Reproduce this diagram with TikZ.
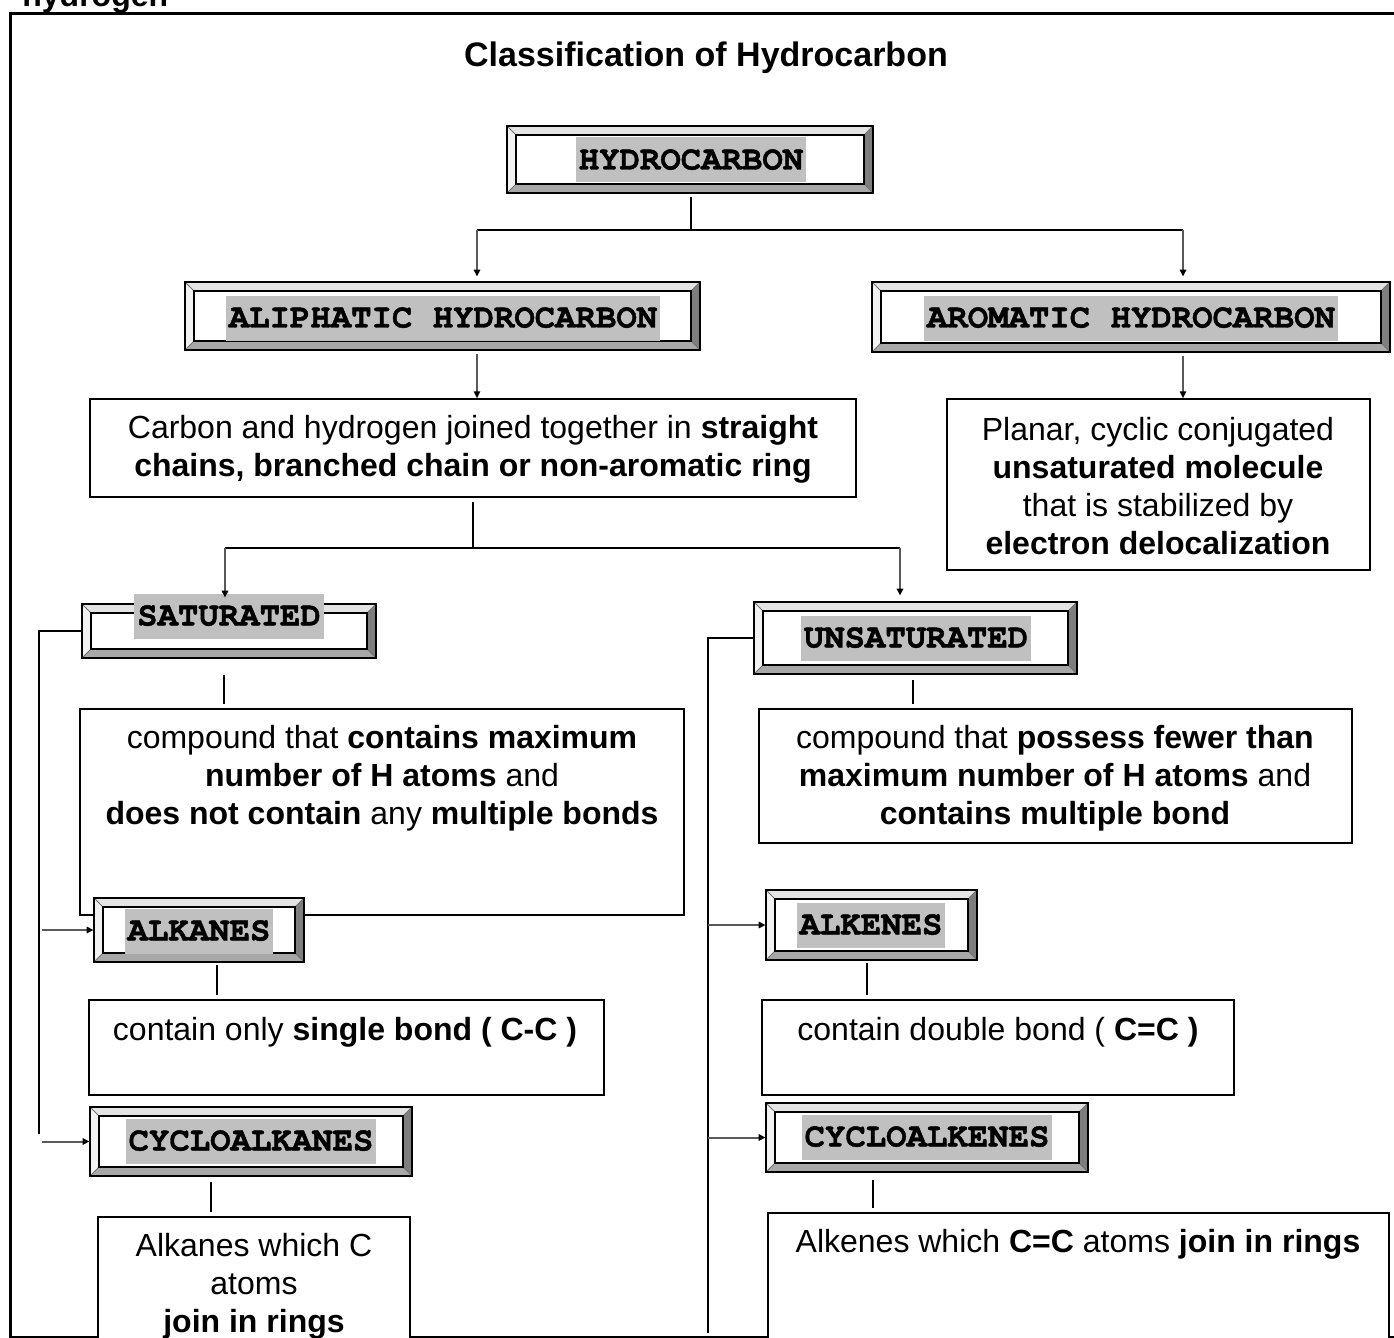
\documentclass[tikz,border=0pt]{standalone}
\usepackage{fontspec}
\setmainfont{Liberation Sans}
\newfontfamily\monof[Extension=.otf, UprightFont=*-regular, BoldFont=*-bold, BoldFeatures={FakeBold=1.2}]{texgyrecursor}
\usetikzlibrary{arrows.meta,fit,calc}
\definecolor{hl}{HTML}{C0C0C0}
\definecolor{bvleft}{HTML}{F2F2F2}
\definecolor{bvtop}{HTML}{E4E4E4}
\definecolor{bvbot}{HTML}{A8A8A8}
\definecolor{bvright}{HTML}{7E7E7E}
\newcommand{\bevbox}[5]{%
 \fill[bvtop] (#2,#3) -- (#4,#3) -- (#4-9,#3+9) -- (#2+9,#3+9) -- cycle;
 \fill[bvleft] (#2,#3) -- (#2+9,#3+9) -- (#2+9,#5-9) -- (#2,#5) -- cycle;
 \fill[bvbot] (#2,#5) -- (#2+9,#5-9) -- (#4-9,#5-9) -- (#4,#5) -- cycle;
 \fill[bvright] (#4,#3) -- (#4,#5) -- (#4-9,#5-9) -- (#4-9,#3+9) -- cycle;
 \draw[black!55, line width=0.4pt] (#2,#3) -- (#2+9,#3+9) (#4,#3) -- (#4-9,#3+9) (#2,#5) -- (#2+9,#5-9) (#4,#5) -- (#4-9,#5-9);
 \fill[white] (#2+9,#3+9) rectangle (#4-9,#5-9);
 \draw[line width=0.7pt] (#2+9,#3+9) rectangle (#4-9,#5-9);
 \draw[line width=1.3pt] (#2,#3) rectangle (#4,#5);
 \node[fit={(#2,#3)(#4,#5)}, inner sep=0pt] (#1) {};
}
\tikzset{
 lbl/.style={font=\monof\bfseries\fontsize{17pt}{17pt}\selectfont, text=black, fill=hl, inner xsep=1.5pt, inner ysep=6.5pt, text height=9.5pt, text depth=0pt},
 body/.style={font=\fontsize{16pt}{19pt}\selectfont, align=center, inner sep=0pt},
 tbox/.style={draw, fill=white, line width=0.75pt, inner sep=0pt},
 trunk/.style={line width=1.3pt, black},
 arr/.style={line width=1pt, draw=black!65, -{Triangle[length=3.5pt,width=3.2pt,color=black]}},
}
\begin{document}
\begin{tikzpicture}[x=0.5pt,y=-0.5pt]
\useasboundingbox (0,0) rectangle (1394,1338);
\fill[white] (0,0) rectangle (1394,1338);
% cut-off heading
\node[font=\bfseries\fontsize{16pt}{16pt}\selectfont, anchor=base west, inner sep=0pt] (hyd) at (22,7) {hydrogen};
% outer frame
\draw[line width=1.5pt] (10,14) rectangle (1410,1337);
% title
\node[font=\bfseries\fontsize{17pt}{17pt}\selectfont, anchor=base, inner sep=0pt] (title) at (706,67) {Classification of Hydrocarbon};

% text boxes
\node[tbox, fit={(90,399)(856,497)}] (t1) {};
\node[tbox, fit={(947,399)(1370,570)}] (t2) {};
\node[tbox, fit={(80,709)(684,915)}] (t3) {};
\node[tbox, fit={(759,709)(1352,843)}] (t4) {};
\node[tbox, fit={(89,1000)(604,1095)}] (t5) {};
\node[tbox, fit={(762,1000)(1234,1095)}] (t6) {};
\node[tbox, fit={(98,1217)(410,1360)}] (t7) {};
\node[tbox, fit={(768,1213)(1389,1360)}] (t8) {};

% bevelled boxes
\bevbox{hc}{507}{126}{873}{193}
\bevbox{ali}{185}{282}{700}{350}
\bevbox{aro}{872}{282}{1390}{352}
\bevbox{sat}{82}{604}{376}{658}
\bevbox{uns}{754}{602}{1077}{674}
\bevbox{alk}{94}{898}{304}{962}
\bevbox{ake}{766}{890}{977}{960}
\bevbox{cya}{90}{1107}{412}{1176}
\bevbox{cye}{766}{1103}{1088}{1172}

% labels
\node[lbl] (lhc) at (691,160) {HYDROCARBON};
\node[lbl] (lali) at (443,318) {ALIPHATIC HYDROCARBON};
\node[lbl] (laro) at (1131,318) {AROMATIC HYDROCARBON};
\node[lbl] (lsat) at (229,616) {SATURATED};
\node[lbl] (luns) at (916,638) {UNSATURATED};
\node[lbl] (lalk) at (199,931) {ALKANES};
\node[lbl] (lake) at (871,925) {ALKENES};
\node[lbl] (lcya) at (251,1141) {CYCLOALKANES};
\node[lbl] (lcye) at (927,1137) {CYCLOALKENES};

% body texts
\node[body] (x1) at (473,449) {Carbon and hydrogen joined together in \textbf{straight}\\\textbf{chains, branched chain or non-aromatic ring}};
\node[body] (x2) at (1158,486) {Planar, cyclic conjugated\\\textbf{unsaturated molecule}\\that is stabilized by\\\textbf{electron delocalization}};
\node[body] (x3) at (382,778) {compound that \textbf{contains maximum}\\\textbf{number of H atoms} and\\\textbf{does not contain} any \textbf{multiple bonds}};
\node[body] (x4) at (1055,778) {compound that \textbf{possess fewer than}\\\textbf{maximum number of H atoms} and\\\textbf{contains multiple bond}};
\node[body] (x5) at (345,1032) {contain only \textbf{single bond ( C-C )}};
\node[body] (x6) at (998,1032) {contain double bond ( \textbf{C=C )}};
\node[body] (x7) at (254,1286) {Alkanes which C\\atoms\\\textbf{join in rings}};
\node[body] (x8) at (1078,1244) {Alkenes which \textbf{C=C} atoms \textbf{join in rings}};

% connectors: top level
\coordinate (jA) at (691,230);
\coordinate (jL) at (477,230);
\coordinate (jR) at (1183,230);
\draw[trunk] ([yshift=-2pt]hc.south -| jA) -- (jA);
\draw[trunk] (jL) -- (jR);
\draw[arr] (jL) -- ([yshift=2.5pt]jL |- ali.north);
\draw[arr] (jR) -- ([yshift=2.5pt]jR |- aro.north);
\draw[arr] ([yshift=-2pt]jL |- ali.south) -- (jL |- t1.north);
\draw[arr] ([yshift=-2pt]jR |- aro.south) -- (jR |- t2.north);

% second level
\coordinate (jB) at (473,548);
\coordinate (kL) at (225,548);
\coordinate (kR) at (900,548);
\draw[trunk] ([yshift=-2pt]t1.south -| jB) -- (jB);
\draw[trunk] (kL) -- (kR);
\draw[arr] (kL) -- ([yshift=3pt]kL |- sat.north);
\draw[arr] (kR) -- ([yshift=3pt]kR |- uns.north);

% stubs
\coordinate (s1) at (224,675);
\draw[trunk] (s1) -- ([yshift=2pt]s1 |- t3.north);
\coordinate (s2) at (913,680);
\draw[trunk] (s2) -- ([yshift=2pt]s2 |- t4.north);
\coordinate (s3) at (217,965);
\draw[trunk] (s3) -- ([yshift=2pt]s3 |- t5.north);
\coordinate (s4) at (867,963);
\draw[trunk] (s4) -- ([yshift=2pt]s4 |- t6.north);
\coordinate (s5) at (211,1182);
\draw[trunk] (s5) -- ([yshift=2pt]s5 |- t7.north);
\coordinate (s6) at (873,1180);
\draw[trunk] (s6) -- ([yshift=2pt]s6 |- t8.north);

% side buses
\coordinate (bL) at (39,631);
\draw[trunk] (sat.west) -- (bL) -- (39,1134);
\draw[arr] ([xshift=1.5pt]alk.west -| bL) -- (alk.west);
\draw[arr] ([xshift=1.5pt]cya.west -| bL) -- (cya.west);
\coordinate (bR) at (708,638);
\draw[trunk] (uns.west) -- (bR) -- (708,1333);
\draw[arr] (ake.west -| bR) -- (ake.west);
\draw[arr] (cye.west -| bR) -- (cye.west);
\end{tikzpicture}
\end{document}
